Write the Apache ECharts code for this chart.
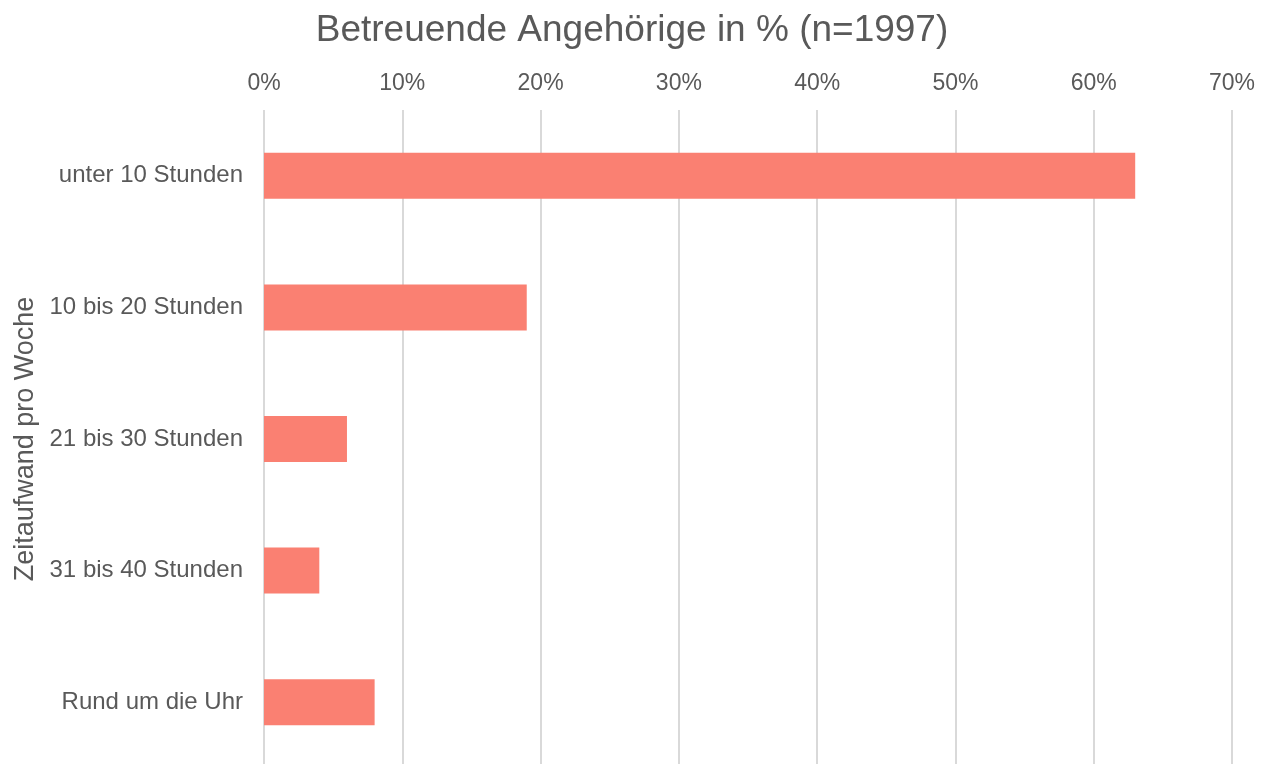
<!DOCTYPE html>
<html>
<head>
<meta charset="utf-8">
<script src="https://cdn.jsdelivr.net/npm/echarts@6/dist/echarts.min.js"></script>
<style>
  html, body { margin: 0; padding: 0; background: #fff; overflow: hidden; }
  #chart { width: 1263px; height: 772px; }
</style>
</head>
<body>
<div id="chart"></div>
<script>
// Daten
var categories = ['unter 10 Stunden', '10 bis 20 Stunden', '21 bis 30 Stunden', '31 bis 40 Stunden', 'Rund um die Uhr'];
var values = [63, 19, 6, 4, 8];
var tickLabels = ['0%', '10%', '20%', '30%', '40%', '50%', '60%', '70%'];

var textColor = '#595959';
var font = '"Liberation Sans", Arial, sans-serif';

var myChart = echarts.init(document.getElementById('chart'));

// Diagramm ist etwas höher als das Fenster, damit das Raster unten abgeschnitten wird
var option = {
  backgroundColor: '#ffffff',
  title: {
    text: 'Betreuende Angehörige in % (n=1997)',
    left: 627,
    textAlign: 'center',
    top: 7,
    textStyle: { color: textColor, fontSize: 37, fontWeight: 'normal', fontFamily: font }
  },
  grid: {
    left: 264,
    right: 31,
    top: 110,
    bottom: 4,
    containLabel: false
  },
  xAxis: {
    type: 'value',
    position: 'top',
    min: 0,
    max: 70,
    interval: 10,
    axisLine: { show: false },
    axisTick: { show: false },
    splitLine: { show: true, lineStyle: { color: '#d9d9d9', width: 2 } },
    axisLabel: {
      color: textColor,
      fontSize: 23,
      fontFamily: font,
      margin: 15,
      formatter: function (v) { return tickLabels[v / 10]; }
    }
  },
  yAxis: {
    type: 'category',
    inverse: true,
    data: categories,
    name: 'Zeitaufwand pro Woche',
    nameLocation: 'middle',
    nameGap: 220,
    nameRotate: 90,
    nameTextStyle: { color: textColor, fontSize: 27, fontFamily: font },
    axisLine: { show: false },
    axisTick: { show: false },
    axisLabel: { color: textColor, fontSize: 24, fontFamily: font, margin: 21, padding: [4, 0, 0, 0] }
  },
  series: [{
    type: 'bar',
    data: values,
    barWidth: 46,
    itemStyle: { color: '#fa8072' },
    silent: true
  }]
};

myChart.setOption(option);
</script>
</body>
</html>
